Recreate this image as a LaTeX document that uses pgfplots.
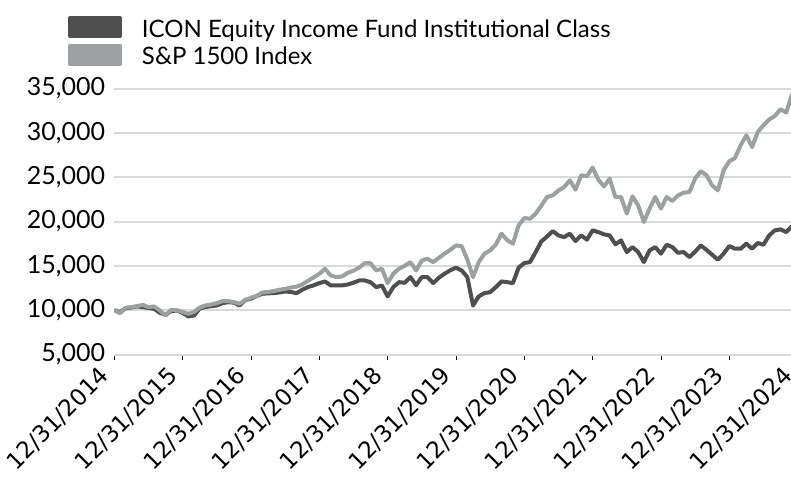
\documentclass[border=0pt]{standalone}
\usepackage{fontspec}
\setmainfont{Lato}
\newfontfamily\dejavu{DejaVu Sans}
\usepackage{pgfplots}
\usepackage{pgfplotstable}
\pgfplotsset{compat=1.18}
\definecolor{icon}{HTML}{4F4F4F}
\definecolor{spx}{HTML}{9DA0A0}
\definecolor{gridc}{HTML}{D9D9D9}

\pgfplotstableread{
m icon spx
0 10000 10000
1 9770 9660
2 10230 10270
3 10300 10340
4 10420 10450
5 10350 10600
6 10250 10340
7 10150 10420
8 9700 9970
9 9480 9400
10 9890 10045
11 9960 9970
12 9700 9800
13 9290 9590
14 9400 9800
15 10200 10300
16 10350 10530
17 10450 10640
18 10530 10790
19 10800 11020
20 10900 11020
21 10850 10900
22 10530 10720
23 11150 11150
24 11300 11400
25 11600 11600
26 11850 12000
27 11900 12050
28 11920 12150
29 12000 12300
30 12110 12400
31 12050 12550
32 11920 12650
33 12300 12900
34 12600 13300
35 12800 13700
36 13050 14100
37 13240 14670
38 12790 13920
39 12800 13730
40 12790 13800
41 12900 14220
42 13100 14450
43 13350 14800
44 13350 15300
45 13150 15300
46 12600 14480
47 12790 14670
48 11550 13050
49 12600 14110
50 13160 14670
51 13090 15000
52 13730 15420
53 12820 14480
54 13730 15610
55 13730 15800
56 13050 15420
57 13660 15900
58 14110 16370
59 14500 16800
60 14790 17300
61 14480 17230
62 13730 15700
63 10530 13730
64 11550 15420
65 11920 16370
66 12030 16740
67 12600 17400
68 13240 18630
69 13160 17900
70 13050 17500
71 14790 19560
72 15310 20390
73 15420 20310
74 16550 20880
75 17760 21800
76 18300 22760
77 18920 22950
78 18430 23500
79 18240 23890
80 18630 24640
81 17790 23600
82 18430 25210
83 17950 25100
84 19000 26080
85 18810 24720
86 18550 23960
87 18430 24840
88 17420 22760
89 17870 22760
90 16550 20880
91 17110 22840
92 16550 21820
93 15420 19940
94 16740 21450
95 17110 22760
96 16370 21450
97 17380 22760
98 17110 22310
99 16480 22950
100 16550 23250
101 15990 23320
102 16600 24840
103 17300 25690
104 16800 25210
105 16250 24080
106 15690 23510
107 16370 25770
108 17230 26790
109 16930 27160
110 16930 28600
111 17500 29720
112 16930 28400
113 17570 30100
114 17380 30850
115 18430 31500
116 19000 31900
117 19110 32660
118 18810 32280
119 19450 34300
120 19150 33500
}\datatable

\begin{document}
\begin{tikzpicture}
\begin{axis}[
  name=ax,
  scale only axis, width=683.3pt, height=266pt,
  xmin=0, xmax=120, ymin=5000, ymax=35000,
  axis lines*=left,
  y axis line style={draw=none},
  x axis line style={draw=gridc, line width=2pt},
  ymajorgrids, grid style={gridc, line width=2pt},
  ytick={5000,10000,...,35000},
  xtick={0,12,...,120},
  xticklabels={12/31/2014,12/31/2015,12/31/2016,12/31/2017,12/31/2018,12/31/2019,12/31/2020,12/31/2021,12/31/2022,12/31/2023,12/31/2024},
  tick align=outside,
  major tick length=5pt,
  x tick style={black, line width=0.8pt},
  y tick style={draw=none},
  scaled y ticks=false,
  y tick label style={/pgf/number format/1000 sep={,}, /pgf/number format/assume math mode=true,
     font=\fontsize{25}{25}\selectfont, inner sep=0pt, xshift=-4pt},
  x tick label style={font=\dejavu\fontsize{23}{23}\selectfont, anchor=north east, inner sep=1pt, xshift=-16pt, yshift=-4pt, rotate=45},
  legend style={at={(-0.0678,1.2725)}, anchor=north west, draw=none, fill=none,
     inner sep=0pt, outer sep=0pt, row sep=5pt, column sep=0pt,
     font=\fontsize{24}{24}\selectfont, nodes={inner sep=0pt}},
  legend cell align=left,
  line join=round,
]
\addplot[icon, line width=4pt, legend image code/.code={\fill[icon] (0pt,-7pt) rectangle (50pt,11pt); \path (70pt,0pt);}] table[x=m, y=icon] {\datatable};
\addlegendentry{ICON Equity Income Fund Institutional Class}
\addplot[spx, line width=4pt, legend image code/.code={\fill[spx] (0pt,-7pt) rectangle (50pt,11pt); \path (70pt,0pt);}] table[x=m, y=spx] {\datatable};
\addlegendentry{S\&P 1500 Index}
\end{axis}
\pgfresetboundingbox
\useasboundingbox ([xshift=-114.3pt, yshift=-130.5pt]ax.south west) rectangle ([xshift=676.7pt, yshift=88.5pt]ax.north west);
\end{tikzpicture}
\end{document}
